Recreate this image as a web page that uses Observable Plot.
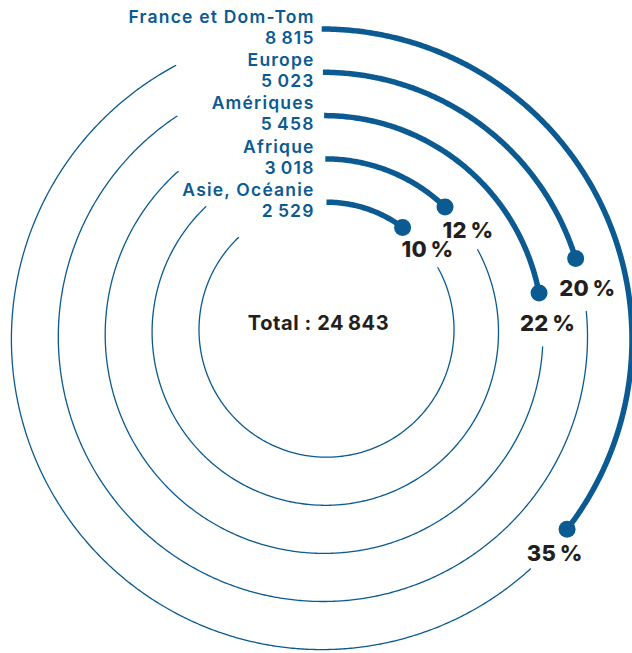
<!DOCTYPE html>
<html><head><meta charset="utf-8">
<script src="https://cdn.jsdelivr.net/npm/d3@7"></script>
<script src="https://cdn.jsdelivr.net/npm/@observablehq/plot@0.6"></script>
<style>
html,body{margin:0;padding:0;background:#fff;}
#chart svg{display:block;}
</style></head><body><div id="chart"></div>
<script>
// ---- data ----
const regions = ["Asie, Océanie", "Afrique", "Amériques", "Europe", "France et Dom-Tom"];
const counts = [2529, 3018, 5458, 5023, 8815];
const totalWord = "Total";
const total = d3.sum(counts); // 24 843

// ---- layout ----
const W = 632, H = 653;
const BLUE = "#0b5a91", INK = "#231f20";
const FONT = "Inter, 'Noto Sans', sans-serif";
const ringR = d3.scaleLinear().domain([0, 4]).range([127.5, 310.3]);
const ringCx = d3.scaleLinear().domain([0, 4]).range([326, 321.2]);
const ringCy = d3.scaleLinear().domain([0, 4]).range([329.2, 338.8]);
const angle = d3.scaleLinear().domain([0, total]).range([0, 2 * Math.PI]);
const fmt = d3.formatLocale({thousands: "\u2009", grouping: [3], decimal: ",", currency: ["", ""]}).format(",d");

function pt(i, a) { return {x: ringCx(i) + ringR(i) * Math.sin(a), y: ringCy(i) - ringR(i) * Math.cos(a)}; }
function arc(i, a0, a1, key) {
  const n = Math.max(2, Math.ceil(Math.abs(a1 - a0) * ringR(i) / 2));
  return d3.range(n + 1).map(k => ({...pt(i, a0 + (a1 - a0) * k / n), key}));
}
const rows = regions.map((name, i) => {
  const r = ringR(i);
  const a = angle(counts[i]);
  const gap = 54 / r;
  const endA = 2 * Math.PI - Math.asin(Math.min(146, 0.69 * r) / r);
  return {name, i, value: counts[i], a, gap, endA, r};
});
const thick = rows.flatMap(d => arc(d.i, 0, d.a, d.name));
const thin = rows.flatMap(d => arc(d.i, d.a + d.gap, d.endA, d.name));
const dots = rows.map(d => ({...pt(d.i, d.a), name: d.name}));
const pcts = rows.map(d => {
  const p = pt(d.i, d.a + d.gap / 2);
  return {x: p.x + 5, y: p.y + 4, label: Math.round(d.value / total * 100) + "\u2009%"};
});
const labelX = ringCx(2) - 9.5;
const names = rows.map(d => ({x: labelX, y: pt(d.i, 0).y - 12, text: d.name}));
const vals = rows.map(d => ({x: labelX, y: pt(d.i, 0).y + 9, text: fmt(d.value)}));
const totalRow = [{x: ringCx(0) - 8, y: ringCy(0) - 6, text: `${totalWord} : ${fmt(total)}`}];

const chart = Plot.plot({
  width: W, height: H, margin: 0,
  x: {domain: [0, W], range: [0, W], axis: null},
  y: {domain: [0, H], range: [0, H], axis: null},
  style: {fontFamily: FONT, background: "#fff"},
  marks: [
    Plot.line(thin, {x: "x", y: "y", z: "key", stroke: BLUE, strokeWidth: 1.3, curve: "linear"}),
    Plot.line(thick, {x: "x", y: "y", z: "key", stroke: BLUE, strokeWidth: 5.5, strokeLinecap: "butt", curve: "linear"}),
    Plot.dot(dots, {x: "x", y: "y", r: 8.5, fill: BLUE}),
    Plot.text(names, {x: "x", y: "y", text: "text", textAnchor: "end", fill: BLUE, fontSize: 17.5, fontWeight: 600}),
    Plot.text(vals, {x: "x", y: "y", text: "text", textAnchor: "end", fill: BLUE, fontSize: 17.5, fontWeight: 600}),
    Plot.text(pcts, {x: "x", y: "y", text: "label", fill: INK, fontSize: 22, fontWeight: 800}),
    Plot.text(totalRow, {x: "x", y: "y", text: "text", fill: INK, fontSize: 20, fontWeight: 700})
  ]
});
// letter tracking of the text marks, in mark order
const spacing = ["1.2px", "1.2px", "0.3px", "0.6px"];
chart.querySelectorAll('g[aria-label="text"]').forEach((g, k) => { g.style.letterSpacing = spacing[k] || "0px"; });
document.getElementById("chart").append(chart);
</script></body></html>
